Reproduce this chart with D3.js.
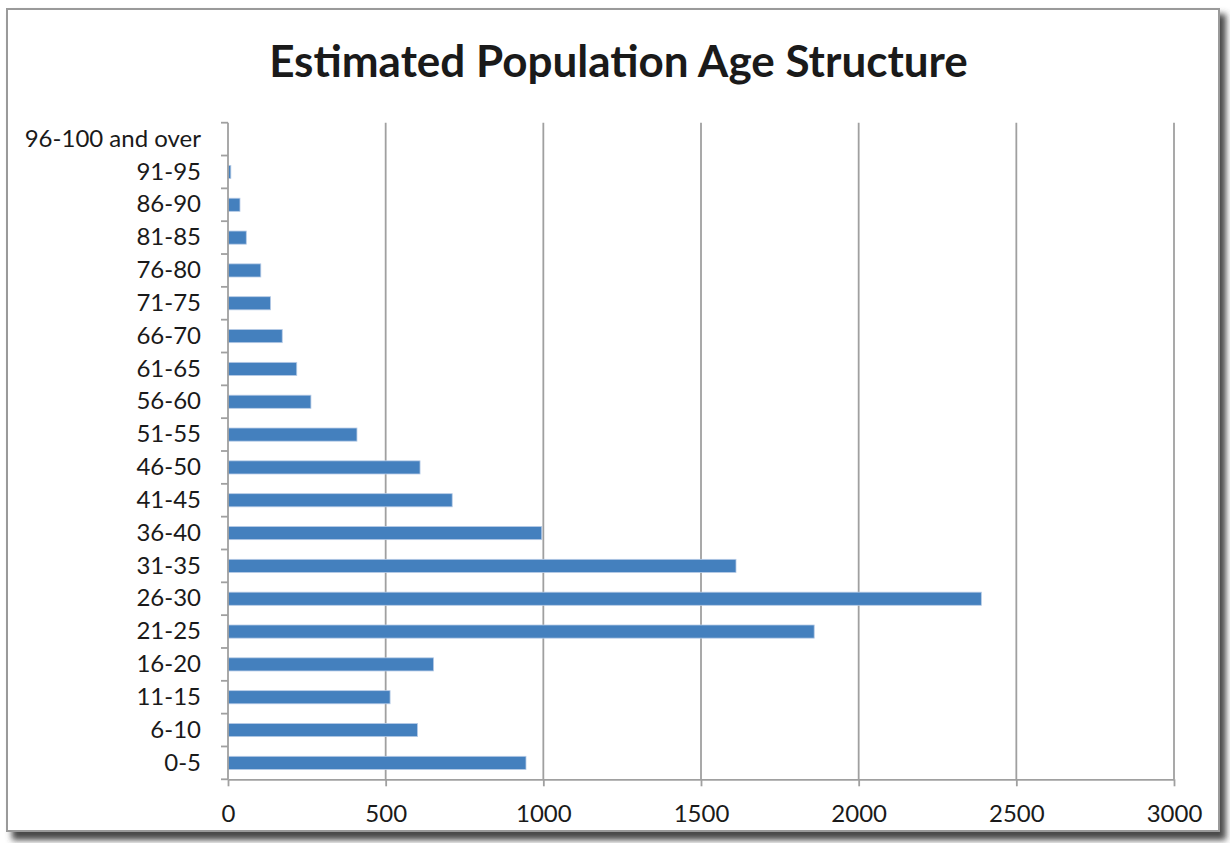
<!DOCTYPE html>
<html>
<head>
<meta charset="utf-8">
<script src="https://cdn.jsdelivr.net/npm/d3@7"></script>
<style>
  html, body { margin: 0; padding: 0; background: #fff; }
  svg { display: block; }
  text { font-family: Lato, "Open Sans", sans-serif; fill: #1a1a1a; }
</style>
</head>
<body>
<div id="chart"></div>
<script>
const categories = ["0-5", "6-10", "11-15", "16-20", "21-25", "26-30", "31-35", "36-40",
  "41-45", "46-50", "51-55", "56-60", "61-65", "66-70", "71-75", "76-80",
  "81-85", "86-90", "91-95", "96-100 and over"]
const population = [945, 601, 514, 652, 1859, 2389, 1611, 995,
  711, 609, 409, 263, 218, 172, 135, 104,
  58, 38, 9, 0]
const xTicks = [0, 500, 1000, 1500, 2000, 2500, 3000]
const title = "Estimated Population Age Structure"

const W = 1230
const H = 843
const PLOT = { LEFT: 228, RIGHT: 1174, TOP: 122.7, BOTTOM: 779.3 }
const BAR_COLOR = "#4480be"
const GRID_COLOR = "#a0a0a0"
const LABEL_SIZE = 24

const data = categories.map((c, i) => ({ label: c, value: population[i] }))

const svg = d3.select("#chart")
              .append("svg")
              .attr("width", W)
              .attr("height", H)

// frame with soft drop shadow
const defs = svg.append("defs")
const blur = defs.append("filter")
                 .attr("id", "shadow")
                 .attr("x", "-5%").attr("y", "-5%")
                 .attr("width", "110%").attr("height", "110%")
blur.append("feGaussianBlur").attr("stdDeviation", 3)

svg.append("rect")
   .attr("x", 12).attr("y", 14)
   .attr("width", 1214).attr("height", 826)
   .attr("fill", "#4a4a4a")
   .attr("filter", "url(#shadow)")

svg.append("rect")
   .attr("x", 7).attr("y", 9)
   .attr("width", 1212).attr("height", 822)
   .attr("fill", "#fff")
   .attr("stroke", "#9a9a9a")
   .attr("stroke-width", 2)

// scales
const x = d3.scaleLinear()
            .domain([0, 3000])
            .range([PLOT.LEFT, PLOT.RIGHT])

const y = d3.scaleBand()
            .domain(categories)
            .range([PLOT.BOTTOM, PLOT.TOP])
            .paddingInner(0.6)
            .paddingOuter(0.3)

// vertical gridlines
svg.append("g")
   .selectAll("line")
   .data(xTicks.filter(d => d > 0))
   .enter()
   .append("line")
   .attr("x1", d => x(d)).attr("x2", d => x(d))
   .attr("y1", PLOT.TOP).attr("y2", PLOT.BOTTOM)
   .attr("stroke", GRID_COLOR)
   .attr("stroke-width", 1.8)

// bars
svg.append("g")
   .selectAll("rect")
   .data(data.filter(d => d.value > 0))
   .enter()
   .append("rect")
   .attr("x", x(0))
   .attr("y", d => y(d.label))
   .attr("width", d => x(d.value) - x(0))
   .attr("height", y.bandwidth())
   .attr("fill", BAR_COLOR)
   .attr("stroke", "#b7cbe6")
   .attr("stroke-width", 0.8)

// x axis
const xAxisCall = d3.axisBottom(x)
                    .tickValues(xTicks)
                    .tickFormat(d3.format("d"))
                    .tickSize(7)
                    .tickPadding(19)
                    .tickSizeOuter(0)
const xAxisGroup = svg.append("g")
                      .attr("transform", `translate(0, ${PLOT.BOTTOM})`)
                      .call(xAxisCall)
xAxisGroup.select(".domain").attr("stroke", GRID_COLOR).attr("stroke-width", 1.8)
xAxisGroup.selectAll(".tick line").attr("stroke", GRID_COLOR).attr("stroke-width", 1.8)
xAxisGroup.selectAll("text")
          .attr("font-size", LABEL_SIZE)
          .attr("font-family", "Lato, sans-serif")
          .attr("fill", "#1a1a1a")

// y axis: labels at band centres, tick marks at band boundaries
const yAxisGroup = svg.append("g")
                      .attr("transform", `translate(${PLOT.LEFT}, 0)`)
                      .call(d3.axisLeft(y).tickSize(0).tickPadding(27))
yAxisGroup.select(".domain").remove()
yAxisGroup.selectAll("text")
          .attr("font-size", LABEL_SIZE)
          .attr("font-family", "Lato, sans-serif")
          .attr("fill", "#1a1a1a")

const boundaries = categories.map(c => y(c) + y.bandwidth() / 2 + y.step() / 2)
boundaries.push(y(categories[categories.length - 1]) + y.bandwidth() / 2 - y.step() / 2)

svg.append("line")
   .attr("x1", PLOT.LEFT).attr("x2", PLOT.LEFT)
   .attr("y1", PLOT.TOP).attr("y2", PLOT.BOTTOM)
   .attr("stroke", GRID_COLOR)
   .attr("stroke-width", 1.8)

svg.append("g")
   .selectAll("line")
   .data(boundaries)
   .enter()
   .append("line")
   .attr("x1", PLOT.LEFT - 7).attr("x2", PLOT.LEFT)
   .attr("y1", d => d).attr("y2", d => d)
   .attr("stroke", GRID_COLOR)
   .attr("stroke-width", 1.8)

// title
const titleText = svg.append("text")
                     .attr("x", 618.5)
                     .attr("y", 77)
                     .attr("text-anchor", "middle")
                     .attr("font-size", 44)
                     .attr("font-weight", "bold")
                     .attr("fill", "#111")
                     .text(title)
if (titleText.node().getComputedTextLength() > 707) {
  titleText.attr("textLength", 707).attr("lengthAdjust", "spacingAndGlyphs")
}
</script>
</body>
</html>
